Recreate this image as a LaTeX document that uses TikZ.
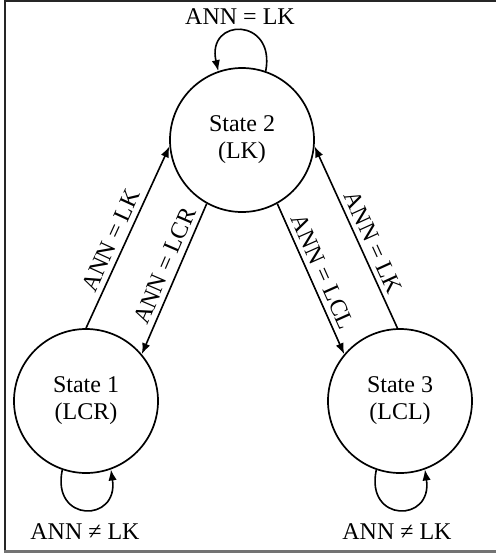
\documentclass[tikz,border=0pt]{standalone}
\usepackage{fontspec}
\setmainfont{Liberation Serif}
\usetikzlibrary{arrows.meta}
\begin{document}
\begin{tikzpicture}[x=0.5pt,y=-0.5pt,
  state/.style={circle,draw,line width=0.85pt,minimum size=72pt,inner sep=0pt,
    align=center,font=\fontsize{12}{13.5}\selectfont},
  trans/.style={line width=0.8pt,-{Latex[length=5.5pt,width=4.2pt]}},
  lbl/.style={font=\fontsize{12}{14}\selectfont,inner sep=2.6pt},
  frame/.style={line width=1pt}]
\useasboundingbox (0,0) rectangle (496,553);
% frame
\draw[frame,black!85] (496,0.8) -- (4.8,0.8) -- (4.8,550);
\draw[line width=1.5pt,black!55] (4,551.5) -- (496,551.5);
% states
\node[state] (s2) at (242,140) {State 2\\(LK)};
\node[state] (s1) at (86,401) {State 1\\(LCR)};
\node[state] (s3) at (400,401) {State 3\\(LCL)};
% transitions between states
\draw[trans] (s1.90) -- node[lbl,sloped,above,pos=0.45] (l12) {ANN = LK} (s2.185);
\draw[trans] (s2.241) -- node[lbl,sloped,above,pos=0.45] (l21) {ANN = LCR} (s1.40);
\draw[trans] (s2.299) -- node[lbl,sloped,above,pos=0.49] (l23) {ANN = LCL} (s3.140);
\draw[trans] (s3.92) -- node[lbl,sloped,above,pos=0.44] (l32) {ANN = LK} (s2.-5);
% self loops
\draw[trans] (s2.71) .. controls (276,17) and (206,17) .. (s2.109);
\draw[trans] (s1.251) .. controls (51,523) and (119,523) .. (s1.290);
\draw[trans] (s3.251) .. controls (365,523) and (433,523) .. (s3.290);
% loop labels
\node[lbl] (t2) at (240,16.5) {ANN = LK};
\node[lbl] (t1) at (85,531.5) {ANN ≠ LK};
\node[lbl] (t3) at (397,531.5) {ANN ≠ LK};
\end{tikzpicture}
\end{document}
